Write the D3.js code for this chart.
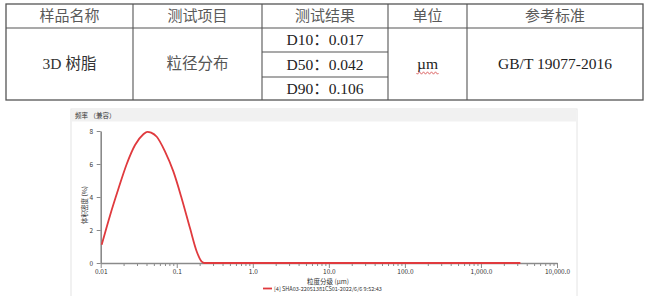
<!DOCTYPE html>
<html>
<head>
<meta charset="utf-8">
<script src="https://cdn.jsdelivr.net/npm/d3@7"></script>
<style>
  body { margin: 0; background: #fff; }
  svg { display: block; }
</style>
</head>
<body>
<div id="chart"></div>
<script>
// table content
const tableHeaders = ['样品名称', '测试项目', '测试结果', '单位', '参考标准'];
const sampleName = '3D 树脂';
const testItem = '粒径分布';
const testResults = ['D10：0.017', 'D50：0.042', 'D90：0.106'];
const unitLabel = 'µm';
const standardLabel = 'GB/T 19077-2016';

// particle size distribution
const sizes = [0.0103, 0.0133, 0.0171, 0.022, 0.0283, 0.0364, 0.041, 0.046, 0.0546, 0.0702, 0.0902, 0.1164, 0.1496, 0.183, 0.213, 0.232, 0.3, 1, 10, 100, 1000, 3300];
const density = [1.1, 2.9, 4.5, 6.0, 7.15, 7.8, 7.95, 7.9, 7.65, 6.75, 5.55, 3.9, 2.1, 0.7, 0.08, 0, 0, 0, 0, 0, 0, 0];
const xTicks = [0.01, 0.1, 1, 10, 100, 1000, 10000];
const xTickLabels = ['0.01', '0.1', '1.0', '10.0', '100.0', '1,000.0', '10,000.0'];
const yTicks = [0, 2, 4, 6, 8];
const legendLabel = '[4] SHA03-22051381CS01-2022/6/6 9:52:43';

const W = 650, H = 296;
const svg = d3.select('#chart').append('svg').attr('width', W).attr('height', H);

// ---------- table ----------
const colX = [6, 133, 262, 388, 467, 643];
const rowY = [4, 28, 100];
const subRowY = [28, 52, 77, 100];
const serif = '"Liberation Serif", "Noto Sans CJK SC", serif';
const lineColor = '#555';

const table = svg.append('g');
table.append('rect')
    .attr('x', colX[0]).attr('y', rowY[0])
    .attr('width', colX[5] - colX[0]).attr('height', rowY[2] - rowY[0])
    .attr('fill', 'none').attr('stroke', lineColor).attr('stroke-width', 1.3);
table.append('line')
    .attr('x1', colX[0]).attr('x2', colX[5]).attr('y1', rowY[1]).attr('y2', rowY[1])
    .attr('stroke', lineColor).attr('stroke-width', 1.1);
colX.slice(1, 5).forEach(x => {
    table.append('line').attr('x1', x).attr('x2', x).attr('y1', rowY[0]).attr('y2', rowY[2])
        .attr('stroke', lineColor).attr('stroke-width', 1.1);
});
subRowY.slice(1, 3).forEach(y => {
    table.append('line').attr('x1', colX[2]).attr('x2', colX[3]).attr('y1', y).attr('y2', y)
        .attr('stroke', lineColor).attr('stroke-width', 1.1);
});

const cx = i => (colX[i] + colX[i + 1]) / 2;
table.selectAll('.hdr')
    .data(tableHeaders)
    .enter()
    .append('text')
    .attr('x', (d, i) => cx(i))
    .attr('y', (rowY[0] + rowY[1]) / 2 + 5)
    .attr('text-anchor', 'middle')
    .style('font-family', serif)
    .style('font-size', '15px')
    .style('fill', '#5a5a5a')
    .text(d => d);

const midY = (rowY[1] + rowY[2]) / 2 + 5;
const bodyCells = [[0, sampleName, '#333'], [1, testItem, '#555'], [3, unitLabel, '#222'], [4, standardLabel, '#222']];
bodyCells.forEach(([i, t, c]) => {
    table.append('text')
        .attr('x', cx(i)).attr('y', midY)
        .attr('text-anchor', 'middle')
        .style('font-family', serif)
        .style('font-size', '15.5px')
        .style('fill', c)
        .text(t);
});
table.selectAll('.res')
    .data(testResults)
    .enter()
    .append('text')
    .attr('x', cx(2))
    .attr('y', (d, i) => (subRowY[i] + subRowY[i + 1]) / 2 + 5)
    .attr('text-anchor', 'middle')
    .style('font-family', serif)
    .style('font-size', '15.5px')
    .style('fill', '#222')
    .text(d => d);

// spell-check squiggle under the unit
let sq = 'M' + (cx(3) - 11) + ',' + (midY + 4);
for (let k = 0; k < 11; k++) {
    sq += ' l1,' + (k % 2 ? -1.2 : 1.2) + ' l1,' + (k % 2 ? 1.2 : -1.2);
}
table.append('path').attr('d', sq).attr('fill', 'none').attr('stroke', '#d03030').attr('stroke-width', 0.7);

// ---------- chart panel ----------
const sans = '"Noto Sans CJK SC", "Noto Sans", sans-serif';
const panel = {left: 71, right: 577, top: 109, header: 12};
svg.append('rect')
    .attr('x', panel.left).attr('y', panel.top)
    .attr('width', panel.right - panel.left).attr('height', H - panel.top + 5)
    .attr('fill', '#fff').attr('stroke', '#e4e4e4').attr('stroke-width', 1);
svg.append('rect')
    .attr('x', panel.left + 0.5).attr('y', panel.top + 0.5)
    .attr('width', panel.right - panel.left - 1).attr('height', panel.header)
    .attr('fill', '#f1f1f1');
svg.append('text')
    .attr('x', panel.left + 4).attr('y', panel.top + 9)
    .style('font-family', sans).style('font-size', '6.5px').style('fill', '#333')
    .text('频率 （兼容）');

const xScale = d3.scaleLog().domain([0.01, 10000]).range([100.7, 557]);
const yScale = d3.scaleLinear().domain([0, 8]).range([263, 131]);
const axisColor = '#8a8a8a';

// minor ticks
const minor = [];
for (let e = -2; e < 4; e++) {
    for (let m = 2; m <= 9; m++) minor.push(m * Math.pow(10, e));
}
const gMinor = svg.append('g')
    .attr('transform', `translate(0,${yScale(0)})`)
    .call(d3.axisBottom(xScale).tickValues(minor).tickSize(3).tickFormat(''));
gMinor.select('.domain').remove();
gMinor.selectAll('line').attr('stroke', axisColor).attr('stroke-width', 1);

const gx = svg.append('g')
    .attr('transform', `translate(0,${yScale(0)})`)
    .call(d3.axisBottom(xScale).tickValues(xTicks).tickSizeInner(5).tickSizeOuter(0)
        .tickFormat((d, i) => xTickLabels[i]));
gx.select('.domain').attr('stroke', axisColor).attr('stroke-width', 1.6);
gx.selectAll('line').attr('stroke', axisColor).attr('stroke-width', 1);
gx.selectAll('text')
    .attr('dy', '0.4em')
    .style('font-family', sans).style('font-size', '6.5px').style('fill', '#333');

const gy = svg.append('g')
    .attr('transform', `translate(${xScale(0.01)},0)`)
    .call(d3.axisLeft(yScale).tickValues(yTicks).tickSizeInner(4).tickSizeOuter(0));
gy.select('.domain').attr('stroke', axisColor).attr('stroke-width', 1.6);
gy.selectAll('line').attr('stroke', axisColor).attr('stroke-width', 1);
gy.selectAll('text')
    .attr('dx', '-0.1em')
    .style('font-family', sans).style('font-size', '6.5px').style('fill', '#333');

// axis titles
svg.append('text')
    .attr('x', 328).attr('y', 284)
    .attr('text-anchor', 'middle')
    .style('font-family', sans).style('font-size', '6.5px').style('fill', '#333')
    .text('粒度分级 (μm)');
svg.append('text')
    .attr('transform', 'rotate(-90)')
    .attr('x', -205).attr('y', 87)
    .attr('text-anchor', 'middle')
    .style('font-family', sans).style('font-size', '6.5px').style('fill', '#333')
    .text('体积密度 (%)');

// distribution curve
const points = sizes.map((s, i) => [s, density[i]]);
svg.append('path')
    .datum(points)
    .attr('fill', 'none')
    .attr('stroke', '#e03a3e')
    .attr('stroke-width', 1.8)
    .attr('d', d3.line()
        .x(d => xScale(d[0]))
        .y(d => yScale(d[1]))
        .curve(d3.curveMonotoneX));

// legend
svg.append('line')
    .attr('x1', 263).attr('x2', 272).attr('y1', 288.5).attr('y2', 288.5)
    .attr('stroke', '#e03a3e').attr('stroke-width', 1.8);
svg.append('text')
    .attr('x', 274).attr('y', 290.5)
    .style('font-family', sans).style('font-size', '5.5px').style('fill', '#333')
    .text(legendLabel);
</script>
</body>
</html>
